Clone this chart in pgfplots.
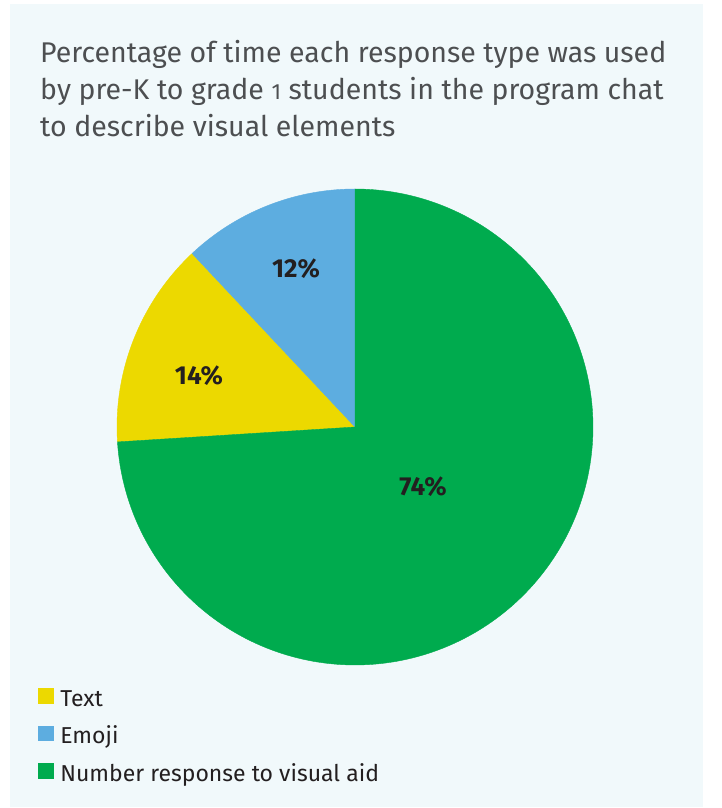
\documentclass[border=0pt]{standalone}
\usepackage{fontspec}
\setmainfont{Fira Sans}
\usepackage{pgfplots}
\usepackage{pgfplotstable}
\pgfplotsset{compat=1.18}
\definecolor{bgpanel}{HTML}{F1F9FB}
\definecolor{cyellow}{HTML}{ECD900}
\definecolor{cblue}{HTML}{5DADE0}
\definecolor{cgreen}{HTML}{00AB4E}
\definecolor{titlegray}{HTML}{4D4F51}
\definecolor{legtext}{HTML}{231F20}
\newcommand\osone{{\fontsize{22}{22}\selectfont 1}}

\pgfplotstableread{
name value
Number 74
Text 14
Emoji 12
}\piedata

\begin{document}
\begin{tikzpicture}
\pgfplotstablegetelem{0}{value}\of\piedata \let\vN\pgfplotsretval
\pgfplotstablegetelem{1}{value}\of\piedata \let\vT\pgfplotsretval
\pgfplotstablegetelem{2}{value}\of\piedata \let\vE\pgfplotsretval
\pgfmathsetmacro\aN{90-3.6*\vN}
\pgfmathsetmacro\aT{\aN-3.6*\vT}
\pgfmathsetmacro\aE{\aT-3.6*\vE}
\begin{axis}[
  x=1pt, y=1pt, xmin=0, xmax=722, ymin=0, ymax=808,
  hide axis, clip=false,
  legend cell align=left,
  legend style={at={(axis cs:38,121)}, anchor=north west, draw=none, fill=none,
    inner sep=0pt, outer sep=0pt, row sep=11.5pt, column sep=5pt,
    font=\fontsize{23}{23}\selectfont\color{legtext},
    nodes={inner sep=2pt, text height=17pt, text depth=5pt}},
  legend image code/.code={\fill[#1] (0pt,-3pt) rectangle (15pt,11.5pt);},
]
\fill[white] (axis cs:0,0) rectangle (axis cs:722,808);
\fill[bgpanel] (axis cs:10,1) rectangle (axis cs:703,804);

\addplot[fill=cyellow, draw=cyellow, line width=0.4pt, domain=\aT:\aN, samples=80]
  ({355+238*cos(x)},{381+238*sin(x)}) -- (axis cs:355,381) -- cycle;
\addlegendentry{Text}
\addplot[fill=cblue, draw=cblue, line width=0.4pt, domain=\aE:\aT, samples=80]
  ({355+238*cos(x)},{381+238*sin(x)}) -- (axis cs:355,381) -- cycle;
\addlegendentry{Emoji}
\addplot[fill=cgreen, draw=cgreen, line width=0.4pt, domain=\aN:90, samples=200]
  ({355+238*cos(x)},{381+238*sin(x)}) -- (axis cs:355,381) -- cycle;
\addlegendentry{Number response to visual aid}

\node[font=\fontsize{26}{26}\selectfont\bfseries, text=legtext] at (axis cs:296,539) {\vE\%};
\node[font=\fontsize{26}{26}\selectfont\bfseries, text=legtext] at (axis cs:199,432) {\vT\%};
\node[font=\fontsize{26}{26}\selectfont\bfseries, text=legtext] at (axis cs:423,321) {\vN\%};

\begin{scope}[every node/.style={anchor=base west, inner sep=0pt, text=titlegray,
   font=\fontsize{28.5}{28.5}\selectfont}]
\node at (axis cs:40,745) {Percentage of time each response type was used};
\node at (axis cs:40,708) {by pre-K to grade \osone{} students in the program chat};
\node at (axis cs:40,671) {to describe visual elements};
\end{scope}
\end{axis}
\end{tikzpicture}
\end{document}
